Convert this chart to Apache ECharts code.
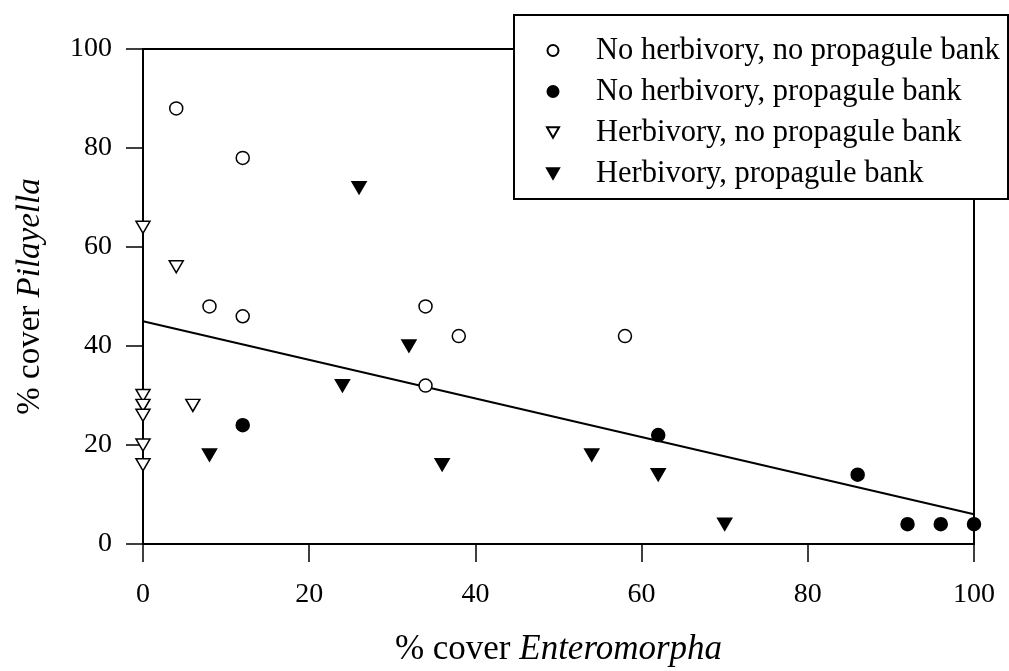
<!DOCTYPE html>
<html>
<head>
<meta charset="utf-8">
<script src="https://cdn.jsdelivr.net/npm/echarts@6/dist/echarts.min.js"></script>
<style>
  html, body { margin: 0; padding: 0; background: #fff; }
  #chart { width: 1009px; height: 671px; }
</style>
</head>
<body>
<div id="chart"></div>
<script>
// Cover of Pilayella versus cover of Enteromorpha, by treatment
const seriesNames = [
  'No herbivory, no propagule bank',
  'No herbivory, propagule bank',
  'Herbivory, no propagule bank',
  'Herbivory, propagule bank'
];

// [% cover Enteromorpha, % cover Pilayella]
const noHerbNoBank = [[4, 88], [12, 78], [8, 48], [12, 46], [34, 48], [38, 42], [34, 32], [58, 42]];
const noHerbBank = [[12, 24], [62, 22], [86, 14], [92, 4], [96, 4], [100, 4]];
const herbNoBank = [[0, 64], [4, 56], [6, 28], [0, 30], [0, 28], [0, 26], [0, 20], [0, 16]];
const herbBank = [[26, 72], [32, 40], [24, 32], [8, 18], [36, 16], [54, 18], [62, 14], [70, 4]];

// Fitted regression line end points
const fitX = [0, 100];
const fitY = [45, 6];

const xTicks = [0, 20, 40, 60, 80, 100];
const yTicks = [0, 20, 40, 60, 80, 100];

const serif = '"Liberation Serif", "Times New Roman", serif';
const downTri = 'path://M0,0 L10,0 L5,8.66 Z';

const chart = echarts.init(document.getElementById('chart'), null, { renderer: 'canvas' });

const fitLine = fitX.map((x, i) => [x, fitY[i]]);

function scatter(name, data, symbol, filled, size) {
  return {
    name: name,
    type: 'scatter',
    data: data,
    symbol: symbol,
    symbolSize: size,
    z: 5,
    itemStyle: {
      color: filled ? '#000' : '#fff',
      borderColor: '#000',
      borderWidth: 1.5,
      opacity: 1
    }
  };
}

chart.setOption({
  animation: false,
  backgroundColor: '#fff',
  grid: {
    left: 143, right: 35, top: 49, bottom: 127,
    outerBoundsMode: 'none',
    containLabel: false,
    show: true, borderColor: '#000', borderWidth: 2, backgroundColor: 'transparent'
  },
  graphic: [{
    type: 'rect',
    z: 50,
    shape: { x: 514, y: 15, width: 494, height: 184 },
    style: { fill: '#fff', stroke: '#000', lineWidth: 2 }
  }],
  legend: {
    orient: 'vertical',
    left: 541, top: 30,
    z: 60,
    itemWidth: 12, itemHeight: 11,
    itemGap: 10,
    data: seriesNames,
    textStyle: {
      fontFamily: serif, fontSize: 30.5, color: '#000',
      lineHeight: 30, padding: [0, 0, 0, 32]
    }
  },
  xAxis: {
    type: 'value',
    min: xTicks[0], max: xTicks[xTicks.length - 1], interval: 20,
    name: '{n|% cover }{i|Enteromorpha}',
    nameLocation: 'middle', nameGap: 88,
    nameTextStyle: {
      rich: {
        n: { fontFamily: serif, fontSize: 35, color: '#000' },
        i: { fontFamily: serif, fontSize: 35, fontStyle: 'italic', color: '#000' }
      }
    },
    axisLine: { lineStyle: { color: '#000', width: 2 } },
    axisTick: { length: 18, lineStyle: { color: '#000', width: 1.5 } },
    axisLabel: { fontFamily: serif, fontSize: 28, color: '#000', margin: 37 },
    splitLine: { show: false }
  },
  yAxis: {
    type: 'value',
    min: yTicks[0], max: yTicks[yTicks.length - 1], interval: 20,
    name: '{n|% cover }{i|Pilayella}',
    nameLocation: 'middle', nameGap: 96,
    nameTextStyle: {
      rich: {
        n: { fontFamily: serif, fontSize: 33, color: '#000' },
        i: { fontFamily: serif, fontSize: 33, fontStyle: 'italic', color: '#000' }
      }
    },
    axisLine: { lineStyle: { color: '#000', width: 2 } },
    axisTick: { length: 17, lineStyle: { color: '#000', width: 1.5 } },
    axisLabel: { fontFamily: serif, fontSize: 28, color: '#000', margin: 31 },
    splitLine: { show: false }
  },
  series: [
    {
      name: 'fit',
      type: 'line',
      data: fitLine,
      symbol: 'none',
      z: 3,
      lineStyle: { color: '#000', width: 2 }
    },
    scatter(seriesNames[0], noHerbNoBank, 'circle', false, 13),
    scatter(seriesNames[1], noHerbBank, 'circle', true, 13),
    scatter(seriesNames[2], herbNoBank, downTri, false, [14, 12]),
    scatter(seriesNames[3], herbBank, downTri, true, [14, 12])
  ]
});
</script>
</body>
</html>
